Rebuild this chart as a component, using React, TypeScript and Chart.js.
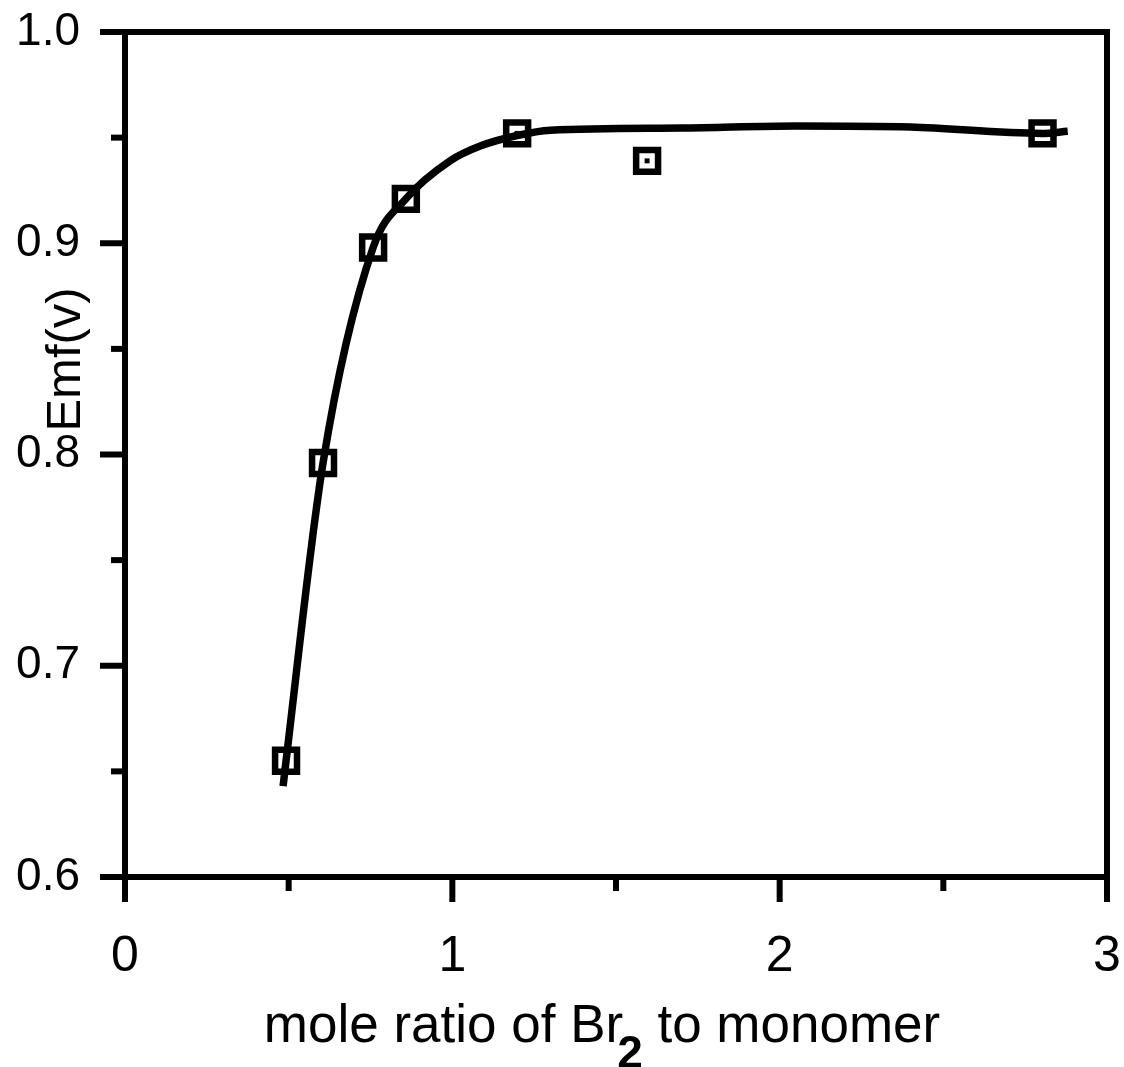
import React, { useEffect, useRef } from "react";
import { Chart, registerables } from "chart.js";

Chart.register(...registerables);

// Measured markers
const markerX = [0.492, 0.605, 0.758, 0.858, 1.198, 1.595, 2.803];
const markerY = [0.655, 0.796, 0.898, 0.921, 0.952, 0.939, 0.952];

// Hand-drawn smooth curve (skips the 1.6 point)
const curveX = [0.483, 0.492, 0.605, 0.758, 0.858, 0.993, 1.085, 1.198, 1.3, 1.7, 2.05, 2.4, 2.8, 2.88];
const curveY = [0.643, 0.655, 0.796, 0.898, 0.921, 0.939, 0.946, 0.951, 0.9535, 0.9545, 0.9555, 0.955, 0.952, 0.953];

// Axis ticks
const xMajorTicks = [0, 1, 2, 3];
const xMinorTicks = [0.5, 1.5, 2.5];
const yMajorTicks = [0.6, 0.7, 0.8, 0.9, 1.0];
const yMinorTicks = [0.65, 0.75, 0.85, 0.95];

const xTitleA = "mole ratio of Br";
const xTitleSub = "2";
const xTitleB = " to monomer";
const yTitle = "Emf(v)";

const FONT = "'Liberation Sans', Arial, Helvetica, sans-serif";

const framePlugin = {
  id: "frame",
  beforeDatasetsDraw(chart: any) {
    const { ctx, chartArea: a, scales } = chart;
    const xs = scales.x;
    const ys = scales.y;
    ctx.save();
    ctx.strokeStyle = "#000";
    ctx.lineWidth = 6;
    ctx.lineCap = "butt";
    ctx.strokeRect(a.left, a.top, a.right - a.left, a.bottom - a.top);
    for (const v of xMajorTicks) {
      const px = xs.getPixelForValue(v);
      ctx.beginPath();
      ctx.moveTo(px, a.bottom);
      ctx.lineTo(px, a.bottom + 25);
      ctx.stroke();
    }
    for (const v of xMinorTicks) {
      const px = xs.getPixelForValue(v);
      ctx.beginPath();
      ctx.moveTo(px, a.bottom);
      ctx.lineTo(px, a.bottom + 14);
      ctx.stroke();
    }
    for (const v of yMajorTicks) {
      const py = ys.getPixelForValue(v);
      ctx.beginPath();
      ctx.moveTo(a.left, py);
      ctx.lineTo(a.left - 25, py);
      ctx.stroke();
    }
    for (const v of yMinorTicks) {
      const py = ys.getPixelForValue(v);
      ctx.beginPath();
      ctx.moveTo(a.left, py);
      ctx.lineTo(a.left - 14, py);
      ctx.stroke();
    }
    ctx.restore();
  },
  afterDraw(chart: any) {
    const { ctx, chartArea: a, scales } = chart;
    ctx.save();
    ctx.fillStyle = "#000";
    // x title with subscript
    const mainFont = `53px ${FONT}`;
    const subFont = `bold 46px ${FONT}`;
    ctx.font = mainFont;
    const wA = ctx.measureText(xTitleA).width;
    const wB = ctx.measureText(xTitleB).width;
    ctx.font = subFont;
    const wS = ctx.measureText(xTitleSub).width;
    const overlap = 6;
    const total = wA + wS - overlap + wB;
    const cx = (a.left + a.right) / 2 - 14;
    let x = cx - total / 2;
    const base = a.bottom + 165;
    ctx.textBaseline = "alphabetic";
    ctx.textAlign = "left";
    ctx.font = mainFont;
    ctx.fillText(xTitleA, x, base);
    x += wA - overlap;
    ctx.font = subFont;
    ctx.fillText(xTitleSub, x, base + 26);
    x += wS;
    ctx.font = mainFont;
    ctx.fillText(xTitleB, x, base);
    // y title
    const ys = scales.y;
    ctx.translate(a.left - 45, ys.getPixelForValue(0.845));
    ctx.rotate(-Math.PI / 2);
    ctx.textAlign = "center";
    ctx.font = `49px ${FONT}`;
    ctx.fillText(yTitle, 0, 0);
    ctx.restore();
  },
};

export default function App() {
  const ref = useRef<HTMLCanvasElement | null>(null);
  useEffect(() => {
    if (!ref.current) return;
    const markers = markerX.map((x, i) => ({ x, y: markerY[i] }));
    const curve = curveX.map((x, i) => ({ x, y: curveY[i] }));
    const chart = new Chart(ref.current, {
      type: "scatter",
      data: {
        datasets: [
          {
            type: "line",
            data: curve,
            borderColor: "#000",
            borderWidth: 7.5,
            pointRadius: 0,
            cubicInterpolationMode: "monotone",
            fill: false,
            order: 3,
          } as any,
          {
            data: markers,
            pointStyle: "rect",
            pointRadius: 15.5,
            borderWidth: 6.5,
            borderColor: "#000",
            backgroundColor: "rgba(0,0,0,0)",
            order: 2,
          },
          {
            data: markers,
            pointStyle: "rect",
            pointRadius: 3.5,
            borderWidth: 0,
            backgroundColor: "#000",
            order: 1,
          },
        ],
      },
      options: {
        animation: false,
        responsive: true,
        maintainAspectRatio: false,
        layout: { autoPadding: false, padding: { top: 32, right: 17, left: 0, bottom: 0 } },
        plugins: { legend: { display: false }, tooltip: { enabled: false } },
        scales: {
          x: {
            type: "linear",
            min: 0,
            max: 3,
            grid: { display: false, drawTicks: false },
            border: { display: false },
            ticks: {
              stepSize: 1,
              color: "#000",
              padding: 50,
              font: { size: 50, family: FONT },
            },
            afterFit(scale: any) {
              scale.height = 190;
              scale.paddingLeft = 0;
              scale.paddingRight = 0;
            },
          },
          y: {
            type: "linear",
            min: 0.6,
            max: 1.0,
            grid: { display: false, drawTicks: false },
            border: { display: false },
            ticks: {
              stepSize: 0.1,
              color: "#000",
              padding: 45,
              font: { size: 46, family: FONT },
              callback: (v: any) => Number(v).toFixed(1),
            },
            afterFit(scale: any) {
              scale.width = 125;
              scale.paddingTop = 0;
              scale.paddingBottom = 0;
            },
          },
        },
      },
      plugins: [framePlugin],
    });
    return () => chart.destroy();
  }, []);
  return (
    <div style={{ position: "absolute", left: 0, top: 0, width: 1124, height: 1067, background: "#fff" }}>
      <canvas ref={ref} />
    </div>
  );
}
